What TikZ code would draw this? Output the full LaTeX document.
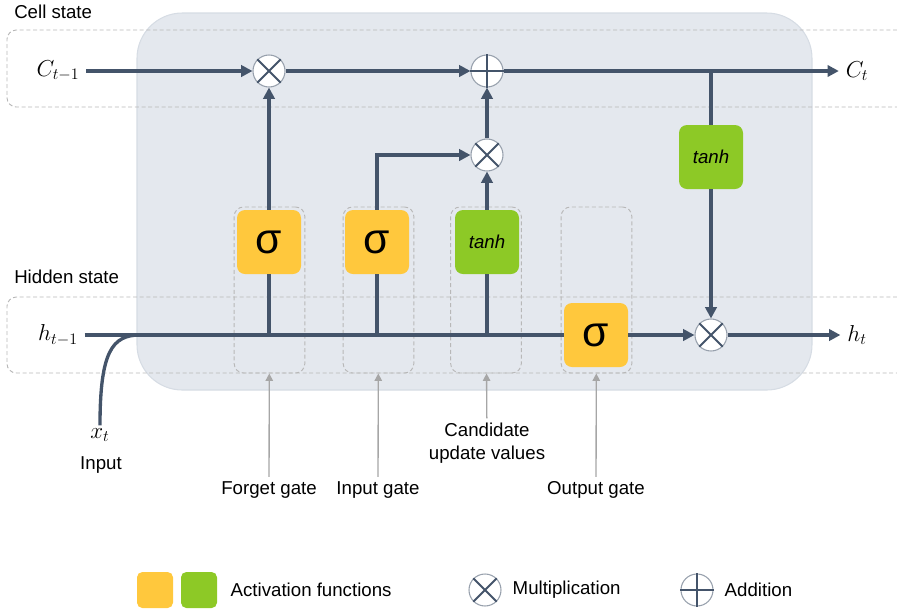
\documentclass[tikz,border=0pt]{standalone}
\usepackage{fontspec}
\setmainfont{Liberation Sans}
\usepackage{amsmath}
\usepackage{xcolor}
\usepackage{tikz}
\usetikzlibrary{arrows.meta}
\definecolor{lineblue}{HTML}{44546A}
\definecolor{cellgray}{HTML}{E4E8EE}
\definecolor{celledge}{HTML}{D6DCE4}
\definecolor{actyellow}{HTML}{FFC83D}
\definecolor{actgreen}{HTML}{8DC926}
\definecolor{dashgray}{HTML}{B8B8B8}
\definecolor{notegray}{HTML}{A6A6A6}

\begin{document}
\begin{tikzpicture}[x=0.75pt,y=-0.75pt,font=\fontsize{14}{17}\selectfont,
  flow/.style={draw=lineblue,line width=2.5pt},
  tip/.style={-{Triangle[length=8.5pt,width=8.5pt]}},
  actbox/.style={rounded corners=6pt,minimum size=48pt,inner sep=0pt},
  sigbox/.style={actbox,fill=actyellow,font=\fontsize{32}{32}\selectfont},
  tanhbox/.style={actbox,fill=actgreen,font=\fontsize{14}{16}\selectfont\itshape},
  opcirc/.style={circle,draw=lineblue!55,line width=0.8pt,fill=white,minimum size=24pt,inner sep=0pt},
  opline/.style={draw=lineblue,line width=1.5pt},
  band/.style={draw=dashgray,line width=0.7pt,dash pattern=on 3pt off 2pt,rounded corners=7pt},
  gateframe/.style={band,minimum width=53pt,minimum height=124.5pt,inner sep=0pt},
  note/.style={draw=notegray,line width=1pt,-{Triangle[length=5.5pt,width=5.5pt]}},
  mathlbl/.style={font=\fontsize{18}{18}\selectfont,inner sep=5pt}]
  \useasboundingbox (0,0) rectangle (897,612);
  \filldraw[fill=cellgray,draw=celledge,line width=0.8pt,rounded corners=34pt] (137,13) rectangle (812,390);
  \draw[band] (897,30) -- (7,30) -- (7,107) -- (897,107);
  \draw[band] (897,297) -- (7,297) -- (7,373) -- (897,373);
  \node[anchor=west,inner sep=0pt] (celltxt) at (14,12) {Cell state};
  \node[anchor=west,inner sep=0pt] (hiddentxt) at (14,277) {Hidden state};

  \node[gateframe] (fframe) at (269.5,290) {};
  \node[gateframe] (iframe) at (378.5,290) {};
  \node[gateframe] (cframe) at (486,290) {};
  \node[gateframe] (oframe) at (596.5,290) {};

  \node[mathlbl] (cprev) at (58,71) {$C_{t-1}$};
  \node[mathlbl] (cnext) at (857,71) {$C_{t}$};
  \node[mathlbl] (hprev) at (58,335) {$h_{t-1}$};
  \node[mathlbl] (hnext) at (857,335) {$h_{t}$};
  \node[mathlbl,inner sep=2pt] (xin) at (100,435) {$x_{t}$};
  \node (inputtxt) at (101,465) {Input};

  \node[opcirc] (mf) at (269,71) {};
  \node[opcirc] (add) at (487,71) {};
  \node[opcirc] (mc) at (487,155) {};
  \node[opcirc] (mo) at (711,335) {};

  \node[sigbox] (sigf) at (269,242) {σ};
  \node[sigbox] (sigi) at (377,242) {σ};
  \node[tanhbox] (tanhg) at (487,242) {tanh};
  \node[sigbox] (sigo) at (596,335) {σ};
  \node[tanhbox] (tanhc) at (711,157) {tanh};

  \coordinate (br) at (711,71);
  \coordinate (jf) at (269,335);
  \coordinate (ji) at (377,335);
  \coordinate (jc) at (487,335);
  \coordinate (jx) at (140,335);

  \draw[flow,tip] (cprev) -- (mf);
  \draw[flow,tip] (mf) -- (add);
  \draw[flow,tip] (add) -- (cnext);
  \draw[flow] (br) -- (tanhc);
  \draw[flow,tip] (tanhc) -- (mo);
  \draw[flow] (hprev) -- (sigo);
  \draw[flow,tip] (sigo) -- (mo);
  \draw[flow,tip] (mo) -- (hnext);
  \draw[flow] (jf) -- (sigf);
  \draw[flow,tip] (sigf) -- (mf);
  \draw[flow] (ji) -- (sigi);
  \draw[flow,tip] (sigi) |- (mc);
  \draw[flow] (jc) -- (tanhg);
  \draw[flow,tip] (tanhg) -- (mc);
  \draw[flow,tip] (mc) -- (add);
  \draw[flow] (xin.north) .. controls (100,352) and (112,335) .. (jx);

  \foreach \op in {mf,mc,mo}
    \draw[opline] (\op.north east) -- (\op.south west) (\op.north west) -- (\op.south east);
  \draw[opline] (add.north) -- (add.south) (add.west) -- (add.east);

  \node (flbl) at (269,490) {Forget gate};
  \node (ilbl) at (378,490) {Input gate};
  \node[align=center] (clbl) at (487,443) {Candidate\\update values};
  \node (olbl) at (596,490) {Output gate};
  \draw[note] (flbl) -- (fframe);
  \draw[note] (ilbl) -- (iframe);
  \draw[note] (clbl) -- (cframe);
  \draw[note] (olbl) -- (oframe);

  \node[actbox,fill=actyellow,minimum size=27pt,rounded corners=4pt] (legy) at (155,590) {};
  \node[actbox,fill=actgreen,minimum size=27pt,rounded corners=4pt] (legg) at (199,590) {};
  \node[anchor=west] (legact) at (226,590) {Activation functions};
  \node[opcirc] (legm) at (485,590) {};
  \draw[opline] (legm.north east) -- (legm.south west) (legm.north west) -- (legm.south east);
  \node[anchor=west] (legmtxt) at (508,590) {Multiplication};
  \node[opcirc] (lega) at (697,590) {};
  \draw[opline] (lega.north) -- (lega.south) (lega.west) -- (lega.east);
  \node[anchor=west] (legatxt) at (720,590) {Addition};
\end{tikzpicture}
\end{document}
